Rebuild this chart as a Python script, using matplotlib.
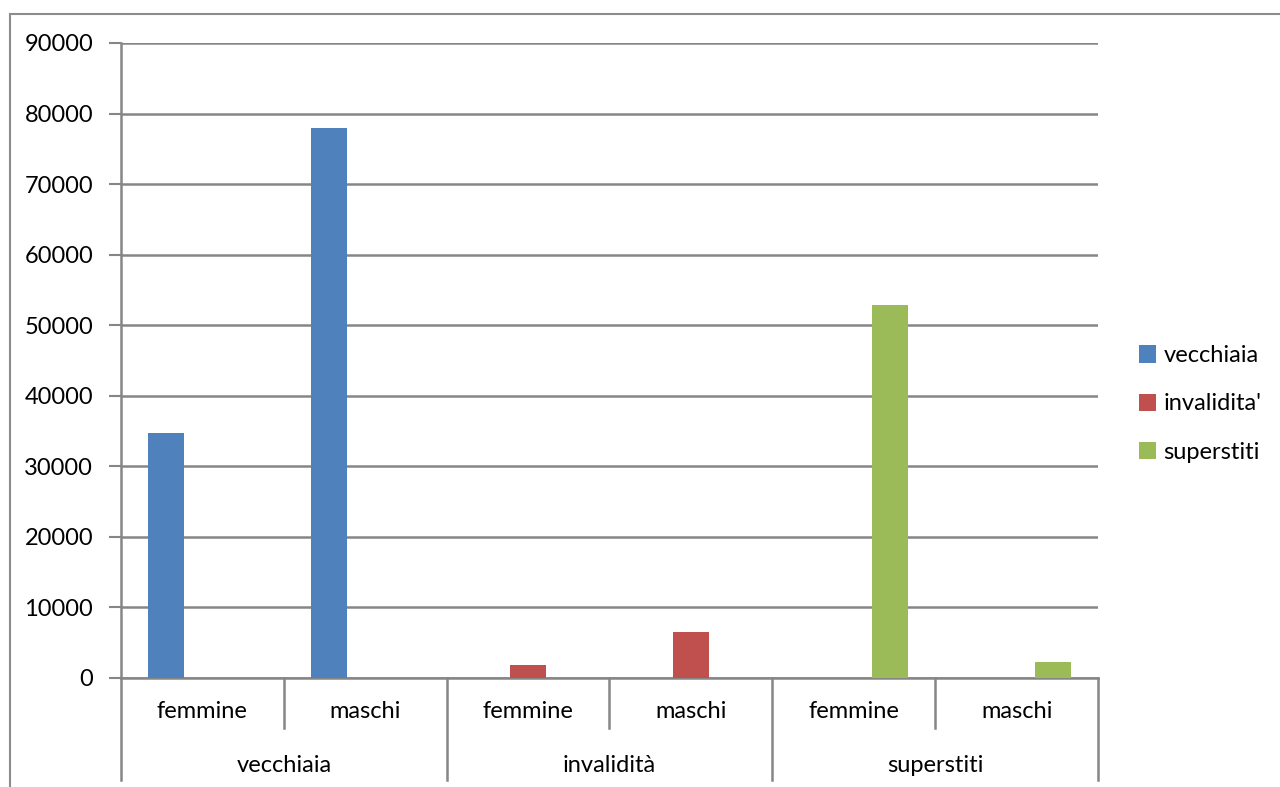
import matplotlib.pyplot as plt
from matplotlib.patches import Rectangle
import numpy as np

# data
groups = ['vecchiaia', 'invalidità', 'superstiti']
sexes = ['femmine', 'maschi']
series = ['vecchiaia', "invalidita'", 'superstiti']
colors = ['#4F81BD', '#C0504D', '#9BBB59']
vecchiaia = [34700, 78000, 0, 0, 0, 0]
invalidita = [0, 0, 1850, 6500, 0, 0]
superstiti = [0, 0, 0, 0, 52800, 2200]
yticks = list(range(0, 90001, 10000))

plt.rcParams['font.family'] = ['Lato', 'DejaVu Sans']
W, H = 1280, 787
fig = plt.figure(figsize=(W / 100, H / 100), dpi=100)

# outer chart border (only top and left visible)
fig.patches.append(Rectangle((10 / W, -0.1), 1.2, (H - 14) / H + 0.1,
                             transform=fig.transFigure, fill=False,
                             edgecolor='#8c8c8c', linewidth=1.5))

ax_l, ax_r, ax_t, ax_b = 121, 1098, 43, 678
ax = fig.add_axes([ax_l / W, (H - ax_b) / H, (ax_r - ax_l) / W, (ax_b - ax_t) / H])

n = len(groups) * len(sexes)
x = np.arange(n)
bw = 1 / 4.5
for i, (vals, name, c) in enumerate(zip([vecchiaia, invalidita, superstiti], series, colors)):
    ax.bar(x + (i - 1) * bw, vals, width=bw, color=c, label=name, zorder=3)

ax.set_xlim(-0.5, n - 0.5)
ax.set_ylim(0, 90000)
ax.set_yticks(yticks)
ax.set_yticklabels([str(v) for v in yticks], fontsize=17)
ax.tick_params(axis='y', length=9, width=1.5, color='#868686', pad=11)
ax.set_xticks([])
ax.grid(axis='y', color='#868686', linewidth=1.8, zorder=0)
for s in ['top', 'right']:
    ax.spines[s].set_visible(False)
for s in ['left', 'bottom']:
    ax.spines[s].set_color('#868686')
    ax.spines[s].set_linewidth(1.8)

# multi-level category axis
axh = ax_b - ax_t
def yfrac(px):
    return -px / axh

trans = ax.get_xaxis_transform()
for k in range(n + 1):
    xb = k - 0.5
    depth = 102 if k % 2 == 0 else 50
    ax.plot([xb, xb], [0, yfrac(depth)], transform=trans, color='#868686',
            linewidth=1.8, clip_on=False)
for k in range(n):
    ax.text(k, yfrac(34), sexes[k % 2], transform=trans, ha='center', va='center',
            fontsize=17)
for g, name in enumerate(groups):
    ax.text(2 * g + 0.5, yfrac(87), name, transform=trans, ha='center', va='center',
            fontsize=17)

leg = ax.legend(loc='center left', bbox_to_anchor=(1.02, (ax_b - 404) / axh),
                frameon=False, fontsize=17, handlelength=0.75, handleheight=0.75,
                handletextpad=0.3, labelspacing=1.15)

fig.savefig('out.png', dpi=100, facecolor='white')
